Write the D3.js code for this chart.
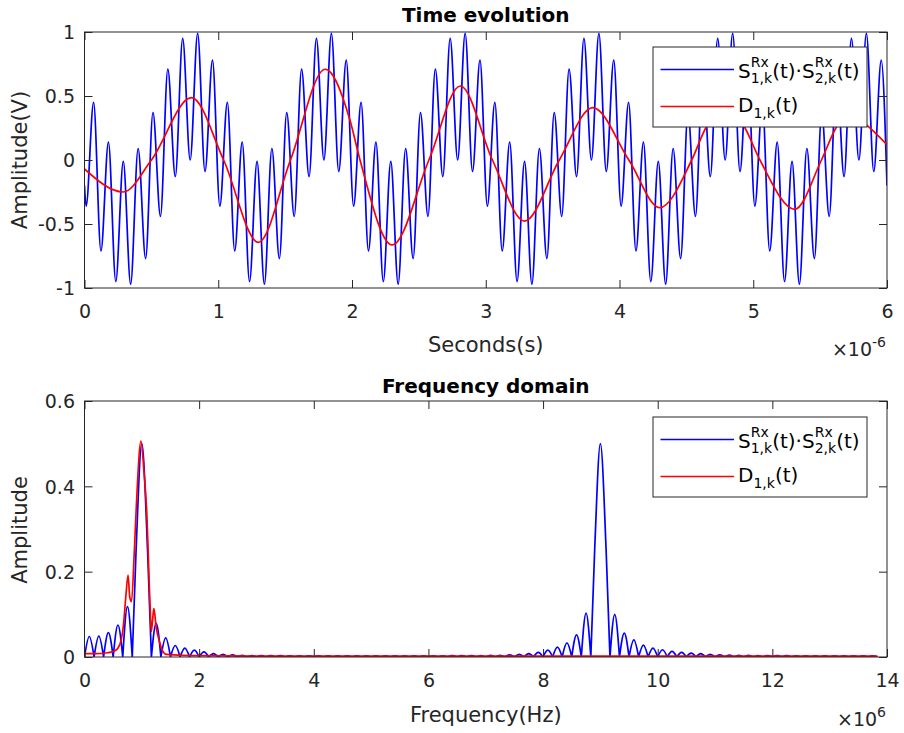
<!DOCTYPE html>
<html><head><meta charset="utf-8">
<script src="https://cdn.jsdelivr.net/npm/d3@7"></script>
<style>
html,body{margin:0;padding:0;background:#fff;}
svg{display:block;font-family:"DejaVu Sans","Liberation Sans",Arial,sans-serif;}
</style></head><body>
<svg id="chart" width="904" height="733"></svg>
<script>
// ---------------- DATA ----------------
// Time axis ticks (µs, shown with ×10^-6) and amplitude ticks
const timeTicks = [0, 1, 2, 3, 4, 5, 6];
const ampTicks = [-1, -0.5, 0, 0.5, 1];
// Frequency axis ticks (MHz, shown with ×10^6) and spectrum amplitude ticks
const freqTicks = [0, 2, 4, 6, 8, 10, 12, 14];
const specTicks = [0, 0.2, 0.4, 0.6];

// Blue product signal S1·S2 in time: turning points (µs, V)
const blueT = [0,
  0.012,0.068,0.123,0.179,0.234,0.290,0.345,0.401,0.457,0.512,0.568,0.623,0.679,0.734,0.790,0.846,0.901,0.957,
  1.012,1.068,1.123,1.179,1.234,1.290,1.345,1.401,1.457,1.512,1.568,1.623,1.679,1.734,1.790,1.846,1.901,1.957,
  2.012,2.068,2.123,2.179,2.234,2.290,2.345,2.401,2.457,2.512,2.568,2.623,2.679,2.734,2.790,2.846,2.901,2.957,
  3.012,3.068,3.123,3.179,3.234,3.290,3.345,3.401,3.457,3.512,3.568,3.623,3.679,3.734,3.790,3.846,3.901,3.957,
  4.012,4.068,4.123,4.179,4.234,4.290,4.345,4.401,4.457,4.512,4.568,4.623,4.679,4.734,4.790,4.846,4.901,4.957,
  5.012,5.068,5.123,5.179,5.234,5.290,5.345,5.401,5.457,5.512,5.568,5.623,5.679,5.734,5.790,5.846,5.901,5.957,
  6];
const blueV = [-0.20,
  -0.36,0.45,-0.71,0.14,-0.95,-0.01,-0.97,0.09,-0.77,0.37,-0.44,0.71,-0.13,0.95,0.00,0.99,-0.09,0.78,
  -0.36,0.45,-0.71,0.14,-0.95,-0.01,-0.97,0.09,-0.77,0.37,-0.44,0.71,-0.13,0.95,0.00,0.99,-0.09,0.78,
  -0.36,0.45,-0.71,0.14,-0.95,-0.01,-0.97,0.09,-0.77,0.37,-0.44,0.71,-0.13,0.95,0.00,0.99,-0.09,0.78,
  -0.36,0.45,-0.71,0.14,-0.95,-0.01,-0.97,0.09,-0.77,0.37,-0.44,0.71,-0.13,0.95,0.00,0.99,-0.09,0.78,
  -0.36,0.45,-0.71,0.14,-0.95,-0.01,-0.97,0.09,-0.77,0.37,-0.44,0.71,-0.13,0.95,0.00,0.99,-0.09,0.78,
  -0.36,0.45,-0.71,0.14,-0.95,-0.01,-0.97,0.09,-0.77,0.37,-0.44,0.71,-0.13,0.95,0.00,0.99,-0.09,0.78,
  -0.20];

// Red D1 signal in time (µs, V)
const redT = [0,0.29,0.50,0.80,1.04,1.30,1.54,1.80,1.985,2.06,2.30,2.575,2.81,3.05,3.29,3.55,3.80,4.07,4.30,4.54,4.65,4.79,4.925,5.05,5.31,5.51,5.624,5.74,5.848,6.0];
const redV = [-0.07,-0.25,0.0,0.487,0.0,-0.643,0.0,0.709,0.31,0.0,-0.664,0.0,0.578,0.0,-0.477,0.0,0.409,0.0,-0.373,0.0,0.26,0.385,0.273,0.0,-0.385,0.0,0.26,0.355,0.273,0.12];

// Blue spectrum: zeros between lobes (MHz) and lobe heights
const blueNullFreq = [0,0.167,0.333,0.5,0.667,0.833,1.167,1.333,1.5,1.667,1.833,2,2.167,2.333,2.5,2.667,2.833,
  3,3.167,3.333,3.5,3.667,3.833,4,4.167,4.333,4.5,4.667,4.833,5,5.167,5.333,5.5,5.667,5.833,
  6,6.167,6.333,6.5,6.667,6.833,7,7.167,7.333,7.5,7.667,7.833,8,8.167,8.333,8.5,8.667,8.833,
  9.167,9.333,9.5,9.667,9.833,10,10.167,10.333,10.5,10.667,10.833,11,11.167,11.333,11.5,11.667,11.833,
  12,12.167,12.333,12.5,12.667,12.833,13,13.167,13.333,13.5,13.667,13.833];
const blueLobePeak = [0.048,0.049,0.057,0.075,0.118,0.50,0.079,0.045,0.027,0.021,0.016,0.012,0.008,0.006,0.005,0.004,0.0035,
  0.003,0.003,0.003,0.0028,0.0027,0.0026,0.0025,0.0025,0.0025,0.0025,0.0025,0.0025,0.0025,0.0025,0.0026,0.0026,0.0027,0.0027,
  0.0028,0.0029,0.003,0.0031,0.0033,0.0035,0.0037,0.004,0.0048,0.006,0.008,0.011,0.016,0.023,0.033,0.052,0.103,
  0.50,0.10,0.056,0.040,0.028,0.021,0.017,0.013,0.011,0.009,0.008,0.006,0.005,0.0045,0.004,0.004,0.0035,
  0.003,0.003,0.003,0.0028,0.0027,0.0026,0.0025,0.0025,0.0025,0.0025,0.0025,0.0025];
// half-height points on the two main lobes
const blueShoulderFreq = [0.9, 1.1, 8.9, 9.1];
const blueShoulderAmp = [0.25, 0.25, 0.25, 0.25];

// Red spectrum (MHz, amplitude)
const redFreq = [0,0.2,0.4,0.5,0.58,0.64,0.68,0.72,0.76,0.79,0.82,0.87,0.91,0.985,1.04,1.084,1.14,1.165,1.19,1.21,1.25,1.29,1.35,1.43,2.0,4.0,8.0,10.0,13.833];
const redAmp = [0.008,0.008,0.01,0.013,0.02,0.04,0.075,0.14,0.192,0.14,0.13,0.25,0.37,0.506,0.43,0.345,0.134,0.06,0.09,0.114,0.07,0.045,0.018,0.006,0.003,0.002,0.002,0.002,0.002];

// ---------------- LAYOUT ----------------
const svg = d3.select("#chart");
const X0 = 84.5, X1 = 887;
const AX = "#262626";
const BLUE = "#0000ff", RED = "#ff0000";
const LW = 1.7;

const xT = d3.scaleLinear().domain([0, 6]).range([X0, X1]);
const yT = d3.scaleLinear().domain([-1, 1]).range([288, 32]);
const xF = d3.scaleLinear().domain([0, 14]).range([X0, X1]);
const yS = d3.scaleLinear().domain([0, 0.6]).range([657, 401]);

function clip(id, top, bottom) {
  svg.append("clipPath").attr("id", id).append("rect")
    .attr("x", X0).attr("y", top).attr("width", X1 - X0).attr("height", bottom - top);
}

function axes(x, y, xticks, yticks, top, bottom) {
  const g = svg.append("g").attr("color", AX);
  const fmt = d => String(d);
  const b = g.append("g").attr("transform", `translate(0,${bottom})`)
    .call(d3.axisBottom(x).tickValues(xticks).tickSizeInner(-8).tickSizeOuter(0).tickFormat(fmt));
  b.selectAll("text").attr("y", 30).attr("dy", null);
  g.append("g").attr("transform", `translate(0,${top})`)
    .call(d3.axisTop(x).tickValues(xticks).tickSizeInner(-8).tickSizeOuter(0).tickFormat(() => ""));
  const l = g.append("g").attr("transform", `translate(${X0},0)`)
    .call(d3.axisLeft(y).tickValues(yticks).tickSizeInner(-8).tickSizeOuter(0).tickFormat(fmt));
  l.selectAll("text").attr("x", -9.5).attr("dy", "0.36em");
  g.append("g").attr("transform", `translate(${X1},0)`)
    .call(d3.axisRight(y).tickValues(yticks).tickSizeInner(-8).tickSizeOuter(0).tickFormat(() => ""));
  g.selectAll(".domain").remove();
  g.selectAll("g").attr("font-family", null).attr("font-size", null);
  g.selectAll("text").attr("font-size", 19).attr("fill", AX);
  g.selectAll("line").attr("stroke-width", 1);
  g.append("rect").attr("x", X0).attr("y", top).attr("width", X1 - X0).attr("height", bottom - top)
    .attr("fill", "none").attr("stroke", AX).attr("stroke-width", 1);
}

function rich(g, x, y, parts, size, small, supDy, subDy) {
  let cx = x;
  parts.forEach(p => {
    if (p.t) {
      const t = g.append("text").attr("x", cx).attr("y", y).attr("font-size", size).attr("fill", "#000").text(p.t);
      cx += t.node().getComputedTextLength();
    } else {
      let w = 0;
      if (p.sup) {
        const t = g.append("text").attr("x", cx).attr("y", y + supDy).attr("font-size", small).attr("fill", "#000").text(p.sup);
        w = Math.max(w, t.node().getComputedTextLength());
      }
      if (p.sub) {
        const t = g.append("text").attr("x", cx).attr("y", y + subDy).attr("font-size", small).attr("fill", "#000").text(p.sub);
        w = Math.max(w, t.node().getComputedTextLength());
      }
      cx += w;
    }
  });
}

function legend(top) {
  const L = 653, R = 867;
  const g = svg.append("g");
  g.append("rect").attr("x", L).attr("y", top).attr("width", R - L).attr("height", 80)
    .attr("fill", "#fff").attr("stroke", AX).attr("stroke-width", 1);
  g.append("line").attr("x1", L + 7.5).attr("x2", L + 81).attr("y1", top + 22.5).attr("y2", top + 22.5)
    .attr("stroke", BLUE).attr("stroke-width", LW);
  g.append("line").attr("x1", L + 7.5).attr("x2", L + 81).attr("y1", top + 59.5).attr("y2", top + 59.5)
    .attr("stroke", RED).attr("stroke-width", LW);
  rich(g, L + 85, top + 30.5,
    [{t: "S"}, {sup: "Rx", sub: "1,k"}, {t: "(t)·S"}, {sup: "Rx", sub: "2,k"}, {t: "(t)"}], 20, 14, -10.5, 5.5);
  rich(g, L + 85, top + 65, [{t: "D"}, {sub: "1,k"}, {t: "(t)"}], 20, 14, -10.5, 5.5);
}

function labels(title, titleY, xlab, xlabY, ylab, ycenter, expMain, expSup, expY) {
  const cx = (X0 + X1) / 2;
  svg.append("text").attr("x", cx).attr("y", titleY).attr("text-anchor", "middle")
    .attr("font-size", 20).attr("font-weight", "bold").attr("fill", "#000").text(title);
  svg.append("text").attr("x", cx).attr("y", xlabY).attr("text-anchor", "middle")
    .attr("font-size", 21).attr("fill", AX).text(xlab);
  svg.append("text").attr("transform", `translate(27,${ycenter}) rotate(-90)`).attr("text-anchor", "middle")
    .attr("font-size", 21).attr("fill", AX).text(ylab);
  const e = svg.append("text").attr("x", 886).attr("y", expY).attr("text-anchor", "end")
    .attr("font-size", 19).attr("fill", AX);
  e.append("tspan").text(expMain);
  e.append("tspan").attr("dy", -9).attr("font-size", 14).text(expSup);
}

// ---------------- TOP: time evolution ----------------
clip("clipTop", 32, 288);
const lineT = d3.line().x(d => xT(d[0])).y(d => yT(d[1])).curve(d3.curveMonotoneX);
svg.append("path").attr("clip-path", "url(#clipTop)")
  .attr("d", lineT(blueT.map((t, i) => [t, blueV[i]])))
  .attr("fill", "none").attr("stroke", BLUE).attr("stroke-width", LW).attr("stroke-linejoin", "round");
svg.append("path").attr("clip-path", "url(#clipTop)")
  .attr("d", lineT(redT.map((t, i) => [t, redV[i]])))
  .attr("fill", "none").attr("stroke", RED).attr("stroke-width", LW);
axes(xT, yT, timeTicks, ampTicks, 32, 288);
legend(47);
labels("Time evolution", 22, "Seconds(s)", 352, "Amplitude(V)", 160, "×10", "-6", 356);

// ---------------- BOTTOM: frequency domain ----------------
clip("clipBot", 401, 657);
const lineF = d3.line().x(d => xF(d[0])).y(d => yS(d[1])).curve(d3.curveMonotoneX);
const lobes = blueLobePeak.map((h, i) => {
  const f0 = blueNullFreq[i], f1 = blueNullFreq[i + 1];
  const pts = [[f0, 0], [(f0 + f1) / 2, h], [f1, 0]];
  blueShoulderFreq.forEach((f, j) => { if (f > f0 && f < f1) pts.push([f, blueShoulderAmp[j]]); });
  pts.sort((a, b) => a[0] - b[0]);
  return pts;
});
svg.append("path").attr("clip-path", "url(#clipBot)")
  .attr("d", lobes.map(p => lineF(p)).join(""))
  .attr("fill", "none").attr("stroke", BLUE).attr("stroke-width", LW).attr("stroke-linejoin", "round");
svg.append("path").attr("clip-path", "url(#clipBot)")
  .attr("d", lineF(redFreq.map((f, i) => [f, redAmp[i]])))
  .attr("fill", "none").attr("stroke", RED).attr("stroke-width", LW);
axes(xF, yS, freqTicks, specTicks, 401, 657);
legend(417);
labels("Frequency domain", 393, "Frequency(Hz)", 722, "Amplitude", 530, "×10", "6", 726);
</script>
</body></html>
